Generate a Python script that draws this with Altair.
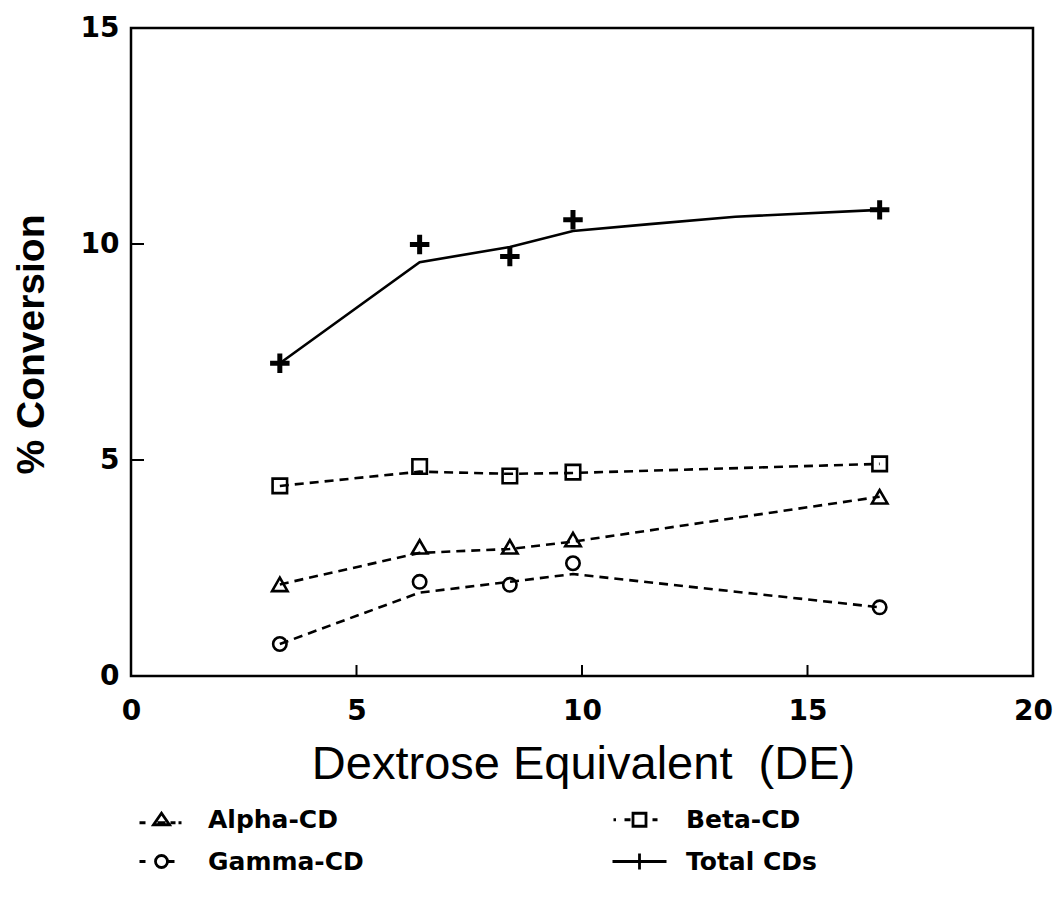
import altair as alt
import pandas as pd

# ---- data ----
series = ["Alpha-CD", "Beta-CD", "Gamma-CD", "Total CDs"]
de = [3.3, 6.4, 8.4, 9.8, 16.6]
alpha = [2.12, 2.99, 2.99, 3.16, 4.15]
beta = [4.40, 4.85, 4.63, 4.72, 4.91]
gamma = [0.74, 2.18, 2.11, 2.61, 1.59]
total = [7.24, 9.99, 9.71, 10.56, 10.79]

# fitted curves (as drawn in the picture)
fit_de = [3.3, 6.4, 8.4, 9.8, 16.6]
alpha_fit = [2.12, 2.85, 2.94, 3.11, 4.15]
beta_fit = [4.40, 4.73, 4.68, 4.70, 4.91]
gamma_fit = [0.74, 1.93, 2.18, 2.36, 1.59]
total_fit_de = [3.3, 6.4, 8.4, 9.8, 11.5, 13.4, 16.6]
total_fit = [7.24, 9.58, 9.93, 10.30, 10.46, 10.63, 10.79]

x_ticks = [5, 10, 15]
y_ticks = [5, 10]
x_labels = [0, 5, 10, 15, 20]
y_labels = [0, 5, 10, 15]

W, H = 902, 648

# ---- tables ----
pts = pd.DataFrame(
    [{"x": x, "y": y, "series": s}
     for s, ys in zip(series, [alpha, beta, gamma, total])
     for x, y in zip(de, ys)]
)
open_pts = pts[pts["series"] != "Total CDs"]
total_pts = pts[pts["series"] == "Total CDs"]
dashed = pd.DataFrame(
    [{"x": x, "y": y, "series": s, "i": i}
     for s, ys in zip(series[:3], [alpha_fit, beta_fit, gamma_fit])
     for i, (x, y) in enumerate(zip(fit_de, ys))]
)
solid = pd.DataFrame({"x": total_fit_de, "y": total_fit, "i": range(len(total_fit))})
xt = pd.DataFrame({"x": x_ticks})
yt = pd.DataFrame({"y": y_ticks})

xscale = alt.Scale(domain=[0, 20], nice=False, zero=False)
yscale = alt.Scale(domain=[0, 15], nice=False, zero=False)

xaxis = alt.Axis(
    values=x_labels, ticks=False, domain=False, grid=False,
    labelFont="DejaVu Sans", labelFontWeight="bold", labelFontSize=28,
    labelColor="black", labelPadding=21, labelFlush=False,
    title="Dextrose Equivalent\u00a0 (DE)", titleFont="Liberation Sans",
    titleFontWeight="normal", titleFontSize=47, titleColor="black",
    titleX=452, titleY=88, titleBaseline="middle", titleAlign="center",
)
yaxis = alt.Axis(
    values=y_labels, ticks=False, domain=False, grid=False,
    labelFont="DejaVu Sans", labelFontWeight="bold", labelFontSize=28,
    labelColor="black", labelPadding=12, labelFlush=False,
    title="% Conversion", titleFont="Liberation Sans", titleFontWeight="bold",
    titleFontSize=39, titleColor="black", titleAngle=-90,
    titleX=-100, titleY=316, titleBaseline="middle", titleAlign="center",
)
X = alt.X("x:Q", scale=xscale, axis=xaxis)
Y = alt.Y("y:Q", scale=yscale, axis=yaxis)

dash_lines = alt.Chart(dashed).mark_line(
    color="black", strokeWidth=2.6, strokeDash=[9, 6]
).encode(x=X, y=Y, detail="series:N", order="i:Q")

total_line = alt.Chart(solid).mark_line(color="black", strokeWidth=2.6).encode(
    x=X, y=Y, order="i:Q"
)

open_markers = alt.Chart(open_pts).mark_point(
    filled=False, color="black", opacity=1, strokeWidth=2.6
).encode(
    x=X, y=Y,
    shape=alt.Shape("series:N", scale=alt.Scale(
        domain=series[:3], range=["triangle-up", "square", "circle"]), legend=None),
    size=alt.Size("series:N", scale=alt.Scale(
        domain=series[:3], range=[240, 180, 185]), legend=None),
)

plus_path = "M-1,0H1M0,-1V1"
total_markers = alt.Chart(total_pts).mark_point(
    filled=False, color="black", opacity=1, strokeWidth=5, shape=plus_path, size=380
).encode(x=X, y=Y)

# legend symbols: dash - marker - dash
leg_paths = [
    "M-2.2,0.3H-1.6M-0.8,0.5L0,-0.65L0.8,0.5ZM-0.4,0.3H0.4M0.9,0.3H1.4M1.7,0.3H2.0",
    "M-2.6,0H-2.35M-1.5,0H-0.9M-0.65,-0.65H0.65V0.65H-0.65ZM1.3,0H1.8",
    "M-2.2,0H-1.6M-0.6,0A0.6,0.6 0 1,0 0.6,0A0.6,0.6 0 1,0 -0.6,0M0.5,0H1.3",
    "M-2.7,0H2.7M0,-0.8V0.8",
]
legend_layer = alt.Chart(pts).transform_filter("datum.x < 0").mark_point(
    filled=False, color="black", size=400, strokeWidth=2.8, opacity=1
).encode(
    x=X, y=Y,
    shape=alt.Shape("series:N", scale=alt.Scale(domain=series, range=leg_paths),
                    legend=alt.Legend(
                        title=None, orient="none", legendX=18, legendY=779,
                        columns=2, direction="horizontal",
                        columnPadding=242, rowPadding=14,
                        labelFont="DejaVu Sans", labelFontWeight="bold",
                        labelFontSize=25, labelColor="black", labelOffset=34,
                        labelLimit=400, symbolSize=400, symbolStrokeWidth=2.8,
                        symbolStrokeColor="black", symbolFillColor="transparent",
                        symbolOpacity=1,
                    )),
)

xtick_layer = alt.Chart(xt).mark_rule(color="black", strokeWidth=2).encode(
    x=X, y=alt.value(H), y2=alt.value(H - 11),
)
ytick_layer = alt.Chart(yt).mark_rule(color="black", strokeWidth=2).encode(
    y=Y, x=alt.value(0), x2=alt.value(13),
)

chart = alt.layer(
    dash_lines, total_line, open_markers, total_markers, legend_layer,
    xtick_layer, ytick_layer
).resolve_scale(
    shape="independent", size="independent"
).properties(
    width=W, height=H,
    autosize=alt.AutoSizeParams(type="none"),
    padding={"left": 131, "top": 28, "right": 25, "bottom": 231},
    background="white",
).configure_view(
    stroke="black", strokeWidth=2.5
)

chart.save("out.html", embed_options={"renderer": "svg", "actions": False})
